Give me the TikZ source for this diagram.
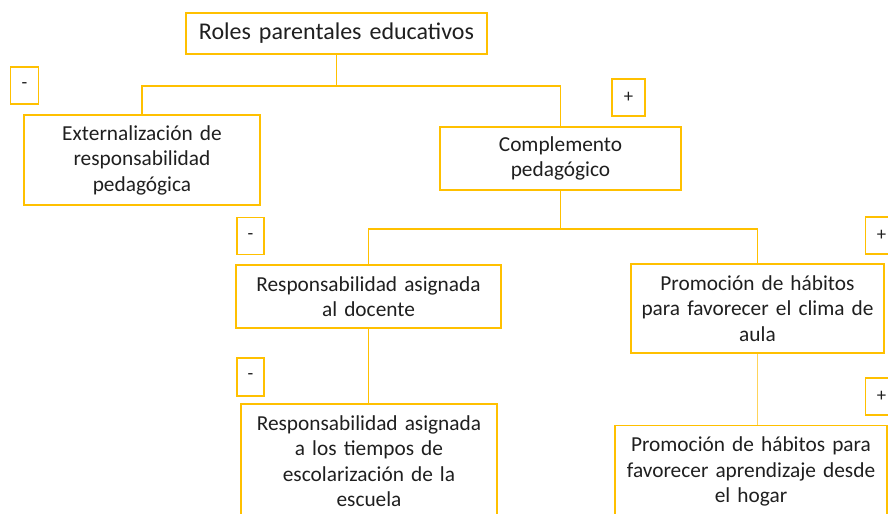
\documentclass[tikz,border=0pt]{standalone}
\usepackage{fontspec}
\setmainfont{Carlito}
\usetikzlibrary{shapes}

\definecolor{gold}{RGB}{255,192,0}
\definecolor{paleGold}{RGB}{255,212,90}

\begin{document}
\begin{tikzpicture}
	  [node distance = 3.5cm,
	  %
	  block/.style={rectangle, draw=gold, line width=1.2pt, text=black!88, text centered, inner sep=0pt, font=\fontsize{16}{19.1}\selectfont},
	  %
	  signbox/.style={rectangle, draw=gold, line width=1.2pt, text=black!88, inner sep=0pt, minimum width=0.74cm, minimum height=0.97cm, font=\fontsize{14}{16}\selectfont},
	  %
	  customline/.style={draw=gold, line width=1.2pt},
	  %
	  thinline/.style={draw=paleGold, line width=0.8pt}]

	    \clip (-8.870,-12.666) rectangle (14.538,0.883);

	    \node [block, text width=7.934cm, minimum height=1.081cm, font=\fontsize{18}{21}\selectfont] (roles) {Roles parentales educativos};
	    \node [block, below of=roles, xshift=-5.127cm, yshift=0.165cm, text width=6.221cm, minimum height=2.372cm] (extern) {Externalización de\\responsabilidad\\pedagógica};
	    \node [block, below of=roles, xshift=5.905cm, yshift=0.205cm, text width=6.353cm, minimum height=1.661cm] (compl) {Complemento\\pedagógico};
	    \node [block, below of=compl, xshift=-5.061cm, yshift=-0.138cm, text width=6.985cm, minimum height=1.661cm] (docente) {Responsabilidad asignada\\al docente};
	    \node [block, below of=compl, xshift=5.193cm, yshift=-0.454cm, text width=6.669cm, minimum height=2.346cm] (clima) {Promoción de hábitos\\para favorecer el clima de\\aula};
% 	    bottom boxes run past the lower edge
	    \node [block, below of=docente, xshift=0.013cm, yshift=-2.268cm, text width=6.748cm, inner ysep=8.5pt] (tiempos) {\parbox[c][150pt][t]{6.748cm}{\centering Responsabilidad asignada\\a los tiempos de\\escolarización de la\\escuela}};
	    \node [block, below of=clima, xshift=-0.171cm, yshift=-2.518cm, text width=7.170cm, inner ysep=8.5pt] (hogar) {\parbox[c][150pt][t]{7.170cm}{\centering Promoción de hábitos para\\favorecer aprendizaje desde\\el hogar}};

	    \node [signbox, above of=extern, xshift=-3.097cm, yshift=-1.537cm] (minusA) {-};
	    \node [signbox, above of=compl, xshift=1.792cm, yshift=-1.893cm, minimum width=0.87cm] (plusA) {+};
	    \node [signbox, above of=docente, xshift=-3.110cm, yshift=-1.906cm, minimum width=0.71cm] (minusB) {-};
	    \node [signbox, above of=clima, xshift=3.269cm, yshift=-1.576cm, minimum width=0.84cm] (plusB) {+};
	    \node [signbox, below of=docente, xshift=-3.110cm, yshift=1.379cm, minimum width=0.71cm, minimum height=1.0cm] (minusC) {-};
	    \node [signbox, below of=clima, xshift=3.269cm, yshift=1.181cm, minimum width=0.84cm] (plusC) {+};

	    \draw [customline] (roles.south) -- +(0,-0.817cm) -| (extern.north);
	    \draw [customline] (roles.south) -- +(0,-0.817cm) -| (compl.north);
	    \draw [customline] (compl.south) -- +(0,-1.002cm) -| (docente.north);
	    \draw [customline] (compl.south) -- +(0,-1.002cm) -| (clima.north);
	    \draw [customline] (docente.south) -- (docente.south |- tiempos.north);
	    \draw [thinline] (clima.south) -- (clima.south |- hogar.north);
	  \end{tikzpicture}
\end{document}
